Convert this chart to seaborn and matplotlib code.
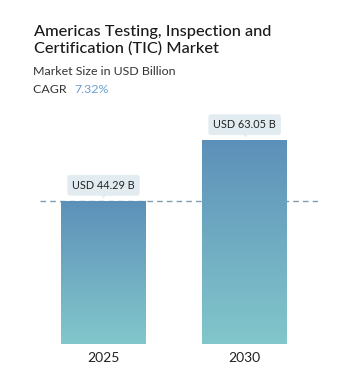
import numpy as np
import pandas as pd
import seaborn as sns
import matplotlib.pyplot as plt
from matplotlib.colors import LinearSegmentedColormap
from matplotlib.transforms import ScaledTranslation

years = ["2025", "2030"]
values = [44.29, 63.05]
labels = ["USD 44.29 B", "USD 63.05 B"]

title = "Americas Testing, Inspection and\nCertification (TIC) Market"
subtitle = "Market Size in USD Billion"
cagr = "7.32%"

sns.set_style("white")
plt.rcParams['font.family'] = ['Lato', 'DejaVu Sans']

fig = plt.figure(figsize=(3.59, 3.78), dpi=100)
ax = fig.add_axes([0.1114, 0.0899, 0.7744, 0.619])

df = pd.DataFrame({"year": years, "value": values})
sns.barplot(data=df, x="year", y="value", ax=ax, width=0.6, color="#6a9fc0")

# gradient fill clipped to each bar
grad_cmap = LinearSegmentedColormap.from_list("g", ["#5d90b9", "#82c7cb"])
grad = np.linspace(0, 1, 256).reshape(-1, 1)
for bar in ax.patches:
    x0, y0 = bar.get_x(), bar.get_y()
    w, h = bar.get_width(), bar.get_height()
    im = ax.imshow(grad, cmap=grad_cmap, aspect="auto",
                   extent=[x0, x0 + w, y0, y0 + h], origin="upper", zorder=2)
    im.set_clip_path(bar)
    bar.set_edgecolor("none")
ax.set_xlim(-0.45, 1.52)
ax.set_ylim(0, 72.4)

# dashed reference line at first bar value
ax.axhline(values[0], color="#7f9cb0", lw=1, ls=(0, (4, 3)), zorder=1)

# value labels
shift = ScaledTranslation(0, 5 / 72, fig.dpi_scale_trans)
for i, (v, lab) in enumerate(zip(values, labels)):
    ax.annotate(lab, xy=(i, v), xytext=(0, 11.2), textcoords="offset points",
                ha="center", va="center", fontsize=7.8, color="#222222",
                bbox=dict(boxstyle="round,pad=0.45,rounding_size=0.25",
                          fc="#e2ecf0", ec="none"),
                zorder=5)
    ax.plot(i, v, marker="v", markersize=4.5, color="#e2ecf0",
            transform=ax.transData + shift, clip_on=False, zorder=5)

ax.set_xlabel("")
ax.set_ylabel("")
ax.set_yticks([])
ax.tick_params(axis="x", length=0, labelsize=10, colors="#222222", pad=6)
sns.despine(ax=ax, left=True, bottom=True)

fig.text(0.094, 0.934, title, fontsize=11.8, color="#1a1a1a", va="top",
         linespacing=1.2, fontweight="medium")
fig.text(0.092, 0.812, subtitle, fontsize=8.9, color="#333333", va="center")
fig.text(0.092, 0.762, "CAGR ", fontsize=8.9, color="#333333", va="center")
fig.text(0.207, 0.762, cagr, fontsize=8.9, color="#6a9fcf", va="center")

fig.savefig("out.png", dpi=100)
